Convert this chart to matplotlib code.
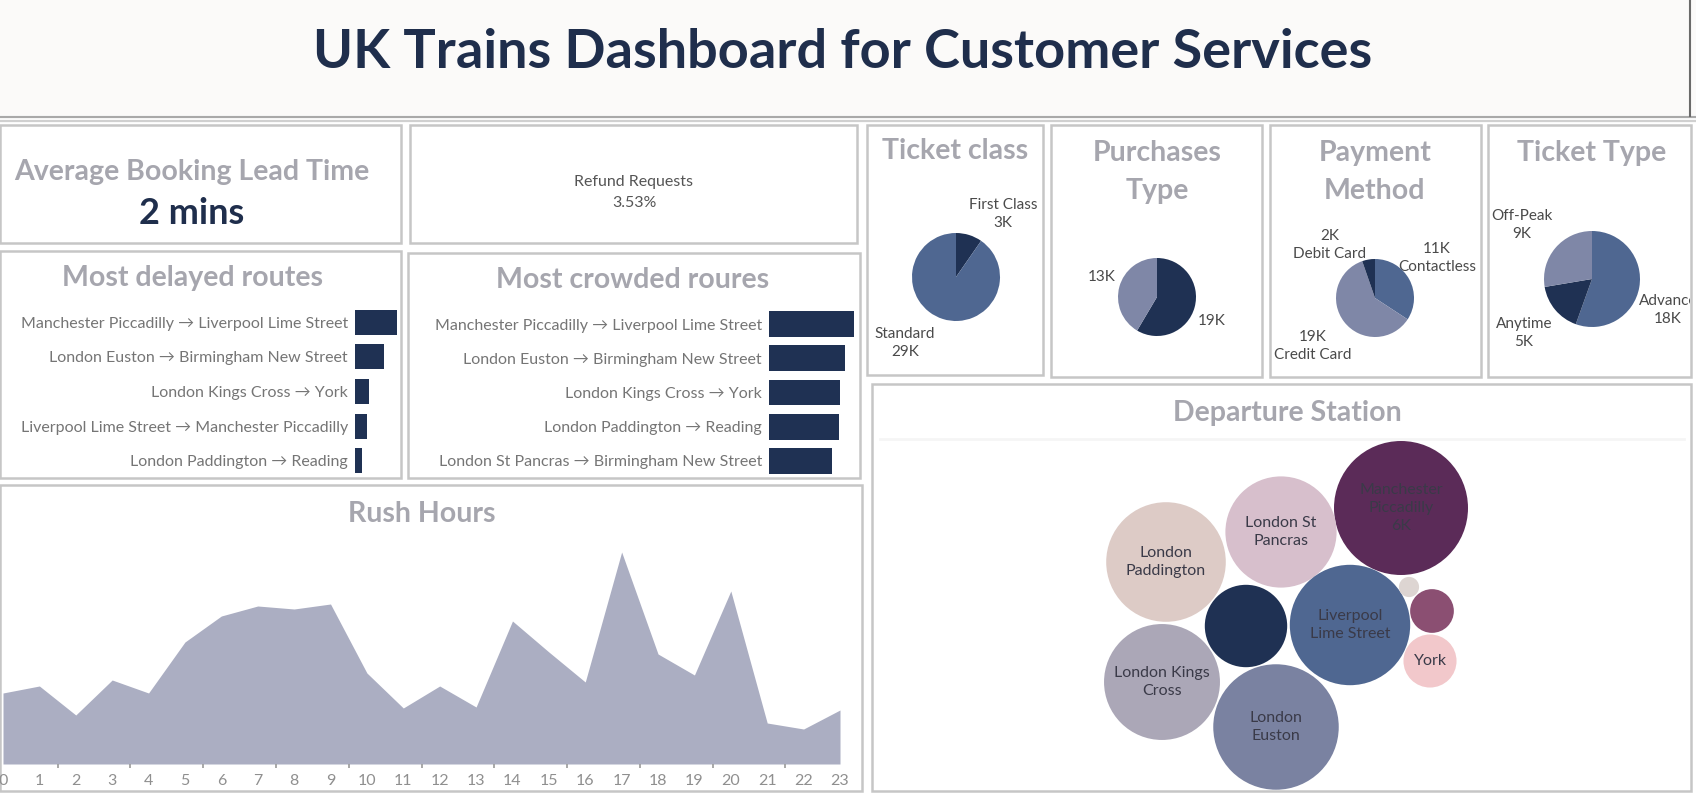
import matplotlib
matplotlib.use('Agg')
import matplotlib.pyplot as plt
from matplotlib.patches import Rectangle, Circle
import numpy as np

plt.rcParams['font.family'] = ['Lato', 'DejaVu Sans']

# ---------------- data ----------------
dashboard_title = "UK Trains Dashboard for Customer Services"
avg_lead_label = "Average Booking Lead Time"
avg_lead_value = "2 mins"
refund_label = "Refund Requests"
refund_pct = 3.53

delayed_routes = ["Manchester Piccadilly \u2192 Liverpool Lime Street",
                  "London Euston \u2192 Birmingham New Street",
                  "London Kings Cross \u2192 York",
                  "Liverpool Lime Street \u2192 Manchester Piccadilly",
                  "London Paddington \u2192 Reading"]
delayed_counts = [417, 285, 143, 121, 71]

crowded_routes = ["Manchester Piccadilly \u2192 Liverpool Lime Street",
                  "London Euston \u2192 Birmingham New Street",
                  "London Kings Cross \u2192 York",
                  "London Paddington \u2192 Reading",
                  "London St Pancras \u2192 Birmingham New Street"]
crowded_counts = [850, 760, 710, 700, 630]

hours = list(range(24))
journeys_by_hour = [710, 780, 490, 840, 710, 1220, 1480, 1580, 1550, 1600, 910, 560,
                    780, 570, 1430, 1120, 820, 2120, 1100, 890, 1730, 410, 350, 540]

ticket_class = ["First Class", "Standard"]
ticket_class_counts = [3058, 28595]
purchase_type = ["Online", "Station"]
purchase_counts = [18521, 13132]
payment_method = ["Contactless", "Credit Card", "Debit Card"]
payment_counts = [10834, 19136, 1683]
ticket_type = ["Advance", "Anytime", "Off-Peak"]
ticket_type_counts = [17561, 5340, 8752]

stations = ["Manchester Piccadilly", "London St Pancras", "London Paddington",
            "Birmingham New Street", "Liverpool Lime Street", "London Kings Cross",
            "London Euston", "Oxford", "Reading", "York"]
station_counts = [5650, 3891, 4500, 2136, 4561, 4229, 4954, 128, 601, 886]

# ---------------- styles / layout ----------------
W, H = 1696, 793
NAVY = '#1f3153'
MID = '#4f6791'
LIGHT = '#7f87a7'
GREY_T = '#a6a6ae'
LBL = '#757575'
TSZ = 20.5

fig = plt.figure(figsize=(W / 100, H / 100), dpi=100)
fig.patch.set_facecolor('white')
bg = fig.add_axes([0, 0, 1, 1])
bg.set_xlim(0, W)
bg.set_ylim(H, 0)
bg.axis('off')


def ax_px(x0, y0, x1, y1):
    a = fig.add_axes([x0 / W, 1 - y1 / H, (x1 - x0) / W, (y1 - y0) / H])
    a.patch.set_alpha(0)
    return a


def fmt_k(v):
    return f"{v / 1000:.0f}K"


# header
bg.add_patch(Rectangle((0, 0), W, 115, facecolor='#fbfaf9', edgecolor='none'))
bg.plot([0, W], [117, 117], color='#a9a9a9', lw=1.6)
bg.plot([0, W], [121, 121], color='#d0d0d0', lw=1.6)
bg.plot([1690, 1690], [0, 116], color='#6a6a6a', lw=1.5)
bg.text(843, 53, dashboard_title, ha='center', va='center', fontsize=39,
        fontweight='bold', color='#1f2e4c')

# boxes
boxes = [(0, 125, 401, 243), (410, 125, 857, 243), (0, 251, 401, 478),
         (408, 253, 860, 478), (0, 485, 862, 791), (867, 125, 1043, 375),
         (1051, 125, 1262, 377), (1270, 125, 1481, 377), (1488, 125, 1691, 377),
         (872, 384, 1691, 791)]
for x0, y0, x1, y1 in boxes:
    bg.add_patch(Rectangle((x0, y0), x1 - x0, y1 - y0, fill=False,
                           edgecolor='#c6c6c6', lw=1.8))

# KPI
bg.text(192, 172, avg_lead_label, ha='center', va='center', fontsize=TSZ,
        fontweight='bold', color=GREY_T)
bg.text(192, 214, avg_lead_value, ha='center', va='center', fontsize=26,
        fontweight='bold', color='#1f2e4c')
bg.text(634, 182, refund_label, ha='center', va='center', fontsize=11.5, color='#555555')
bg.text(634, 203, f"{refund_pct:.2f}%", ha='center', va='center', fontsize=11.5, color='#555555')

# bar panels
bg.text(192, 278, "Most delayed routes", ha='center', va='center', fontsize=TSZ,
        fontweight='bold', color=GREY_T)
bg.text(633, 280, "Most crowded roures", ha='center', va='center', fontsize=TSZ,
        fontweight='bold', color=GREY_T)


def bar_panel(ax, labels, vals, xmax, h):
    ax.barh(range(len(vals)), vals, height=h, color=NAVY)
    ax.set_ylim(len(vals) - 0.5, -0.5)
    ax.set_xlim(0, xmax)
    ax.set_yticks(range(len(vals)))
    ax.set_yticklabels(labels, fontsize=11.5, color=LBL)
    ax.tick_params(axis='y', length=0, pad=5)
    ax.set_xticks([])
    for s in ax.spines.values():
        s.set_visible(False)


bar_panel(ax_px(355, 305, 400, 478), delayed_routes, delayed_counts, 450, 0.72)
bar_panel(ax_px(769, 307, 858, 478), crowded_routes, crowded_counts, 890, 0.76)

# rush hours
bg.text(422, 514, "Rush Hours", ha='center', va='center', fontsize=TSZ,
        fontweight='bold', color=GREY_T)
ar = ax_px(3, 525, 840, 764)
ar.fill_between(hours, journeys_by_hour, 0, color='#abaec2', lw=0)
ar.set_xlim(0, 23)
ar.set_ylim(0, 2390)
ar.set_yticks([])
ar.set_xticks(hours)
ar.set_xticklabels([str(h) for h in hours], fontsize=11.5, color='#8f8f8f')
ar.set_xticks([h + 1.5 for h in range(0, 21, 2)], minor=True)
ar.tick_params(axis='x', which='major', length=0, pad=7)
ar.tick_params(axis='x', which='minor', length=3, width=1.2, color='#9a9a9a')
for s in ar.spines.values():
    s.set_visible(False)

# pies
pie_titles = [("Ticket class", 955, 151), ("Purchases\nType", 1157, 172),
              ("Payment\nMethod", 1375, 172), ("Ticket Type", 1592, 153)]
for t, x, y in pie_titles:
    bg.text(x, y, t, ha='center', va='center', fontsize=TSZ, fontweight='bold',
            color=GREY_T, linespacing=1.6)


def pie(cx, cy, r, vals, cols):
    a = ax_px(cx - r, cy - r, cx + r, cy + r)
    a.pie(vals, colors=cols, startangle=90, counterclock=False, radius=1,
          wedgeprops=dict(linewidth=0))
    a.set_xlim(-1, 1)
    a.set_ylim(-1, 1)
    a.axis('off')


pie(956, 277, 44, ticket_class_counts, [NAVY, MID])
pie(1157, 297, 39, purchase_counts, [NAVY, LIGHT])
pie(1375, 298, 39, payment_counts, [MID, LIGHT, NAVY])
pie(1592, 279, 48, ticket_type_counts, [MID, NAVY, LIGHT])

pkw = dict(ha='center', va='center', fontsize=11, color='#4a4a4a', linespacing=1.45)
tc_pos = {"First Class": (1003, 214), "Standard": (905, 343)}
for n, v in zip(ticket_class, ticket_class_counts):
    bg.text(*tc_pos[n], f"{n}\n{fmt_k(v)}", **pkw)
pt_pos = {"Online": (1212, 321), "Station": (1102, 277)}
for n, v in zip(purchase_type, purchase_counts):
    bg.text(*pt_pos[n], fmt_k(v), **pkw)
pm_pos = {"Contactless": (1437, 258), "Credit Card": (1313, 346), "Debit Card": (1330, 245)}
for n, v in zip(payment_method, payment_counts):
    bg.text(*pm_pos[n], f"{fmt_k(v)}\n{n}", **pkw)
att = ax_px(1488, 125, 1690, 377)
att.set_xlim(1488, 1690)
att.set_ylim(377, 125)
att.axis('off')
tt_pos = {"Advance": (1668, 310), "Anytime": (1524, 333), "Off-Peak": (1522, 225)}
for n, v in zip(ticket_type, ticket_type_counts):
    att.text(*tt_pos[n], f"{n}\n{fmt_k(v)}", clip_on=True, **pkw)

# departure station bubbles
bg.text(1287, 413, "Departure Station", ha='center', va='center', fontsize=TSZ,
        fontweight='bold', color=GREY_T)
bg.plot([880, 1684], [439, 439], color='#f5f5f5', lw=2)
station_colors = ['#5b2b58', '#d7bfcc', '#ddcbc6', NAVY, MID, '#aba7b7',
                  '#7a82a1', '#ddd5d2', '#8b4f72', '#f2c8cb']
station_pos = [(1401, 508), (1281, 532), (1166, 562), (1246, 626), (1350, 625),
               (1162, 682), (1276, 727), (1409, 587), (1432, 611), (1430, 661)]
station_text = {"Manchester Piccadilly": "Manchester\nPiccadilly\n{k}",
                "London St Pancras": "London St\nPancras",
                "London Paddington": "London\nPaddington",
                "Liverpool Lime Street": "Liverpool\nLime Street",
                "London Kings Cross": "London Kings\nCross",
                "London Euston": "London\nEuston",
                "York": "York"}
ab = ax_px(872, 384, 1691, 791)
ab.set_xlim(872, 1691)
ab.set_ylim(791, 384)
ab.axis('off')
K = 67 / np.sqrt(max(station_counts))
for n, v, c, p in zip(stations, station_counts, station_colors, station_pos):
    ab.add_patch(Circle(p, K * np.sqrt(v), facecolor=c, edgecolor='none'))
    if n in station_text:
        ab.text(p[0], p[1], station_text[n].format(k=fmt_k(v)), ha='center',
                va='center', fontsize=11.5, color='#3a3a48', linespacing=1.4)

fig.savefig('out.png', dpi=100, facecolor='white')
